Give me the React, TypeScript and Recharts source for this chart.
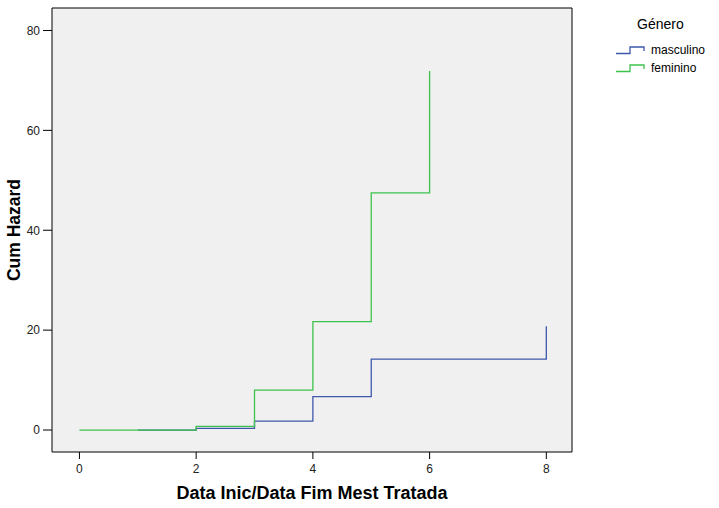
import React from "react";
import { LineChart, Line, XAxis, YAxis, ReferenceArea } from "recharts";

const masculinoX = [1, 2, 3, 4, 5, 8];
const masculinoY = [0, 0.34, 1.8, 6.7, 14.2, 20.8];
const femininoX = [0, 2, 3, 4, 5, 6];
const femininoY = [0, 0.74, 8.0, 21.7, 47.5, 71.9];
const xTicks = [0, 2, 4, 6, 8];
const yTicks = [0, 20, 40, 60, 80];

const masculino = masculinoX.map((x, i) => ({ x, y: masculinoY[i] }));
const feminino = femininoX.map((x, i) => ({ x, y: femininoY[i] }));

const BLUE = "#3E58AC";
const GREEN = "#3DC24E";
const FONT = "'Liberation Sans', Arial, sans-serif";

const StepIcon = ({ color }) => (
  <svg width={32} height={10} style={{ display: "block" }}>
    <polyline
      points="1,8.5 15,8.5 15,2 29,2 29,6"
      fill="none"
      stroke={color}
      strokeWidth={1.3}
    />
  </svg>
);

const LegendBox = () => (
  <div style={{ fontFamily: FONT, color: "#000", position: "absolute", left: 605, top: 0, width: 114, height: 80 }}>
    <div style={{ position: "absolute", left: 32, top: 16, fontSize: 14 }}>Género</div>
    <div style={{ position: "absolute", left: 10, top: 43, display: "flex", alignItems: "center", fontSize: 12 }}>
      <StepIcon color={BLUE} />
      <span style={{ marginLeft: 4 }}>masculino</span>
    </div>
    <div style={{ position: "absolute", left: 10, top: 61, display: "flex", alignItems: "center", fontSize: 12 }}>
      <StepIcon color={GREEN} />
      <span style={{ marginLeft: 4 }}>feminino</span>
    </div>
  </div>
);

const YTitle = ({ viewBox }) => {
  const cx = viewBox.x + 14;
  const cy = viewBox.y + viewBox.height / 2;
  return (
    <text
      x={cx}
      y={cy}
      transform={`rotate(-90, ${cx}, ${cy})`}
      textAnchor="middle"
      dominantBaseline="central"
      fontSize={17.5}
      fontWeight="bold"
      fill="#000"
    >
      Cum Hazard
    </text>
  );
};

const XTitle = ({ viewBox }) => {
  const cx = viewBox.x + viewBox.width / 2;
  const cy = viewBox.y + 41;
  return (
    <text
      x={cx}
      y={cy}
      textAnchor="middle"
      dominantBaseline="central"
      fontSize={18}
      fontWeight="bold"
      fill="#000"
    >
      Data Inic/Data Fim Mest Tratada
    </text>
  );
};

export default function App() {
  return (
    <div style={{ position: "absolute", left: 0, top: 0, width: 719, height: 508, background: "#fff" }}>
      <LineChart
        width={719}
        height={508}
        margin={{ top: 8, right: 147, left: 0, bottom: 0 }}
        style={{ fontFamily: FONT }}
      >
        <ReferenceArea
          x1={-0.47}
          x2={8.44}
          y1={-4.4}
          y2={84.5}
          fill="#F0F0F0"
          fillOpacity={1}
          stroke="#000"
          strokeWidth={1}
          ifOverflow="extendDomain"
        />
        <XAxis
          type="number"
          dataKey="x"
          domain={[-0.47, 8.44]}
          ticks={xTicks}
          allowDataOverflow
          height={56}
          tickSize={7}
          tickMargin={5}
          axisLine={false}
          tickLine={{ stroke: "#000" }}
          tick={{ fill: "#222", fontSize: 12 }}
          label={(props) => <XTitle {...props} />}
        />
        <YAxis
          type="number"
          domain={[-4.4, 84.5]}
          ticks={yTicks}
          allowDataOverflow
          width={52}
          tickSize={9}
          tickMargin={3}
          axisLine={false}
          tickLine={{ stroke: "#000" }}
          tick={{ fill: "#222", fontSize: 12 }}
          label={(props) => <YTitle {...props} />}
        />
        <Line
          data={masculino}
          dataKey="y"
          type="stepAfter"
          stroke={BLUE}
          strokeWidth={1.3}
          dot={false}
          activeDot={false}
          isAnimationActive={false}
          name="masculino"
        />
        <Line
          data={feminino}
          dataKey="y"
          type="stepAfter"
          stroke={GREEN}
          strokeWidth={1.3}
          dot={false}
          activeDot={false}
          isAnimationActive={false}
          name="feminino"
        />
      </LineChart>
      <LegendBox />
    </div>
  );
}
